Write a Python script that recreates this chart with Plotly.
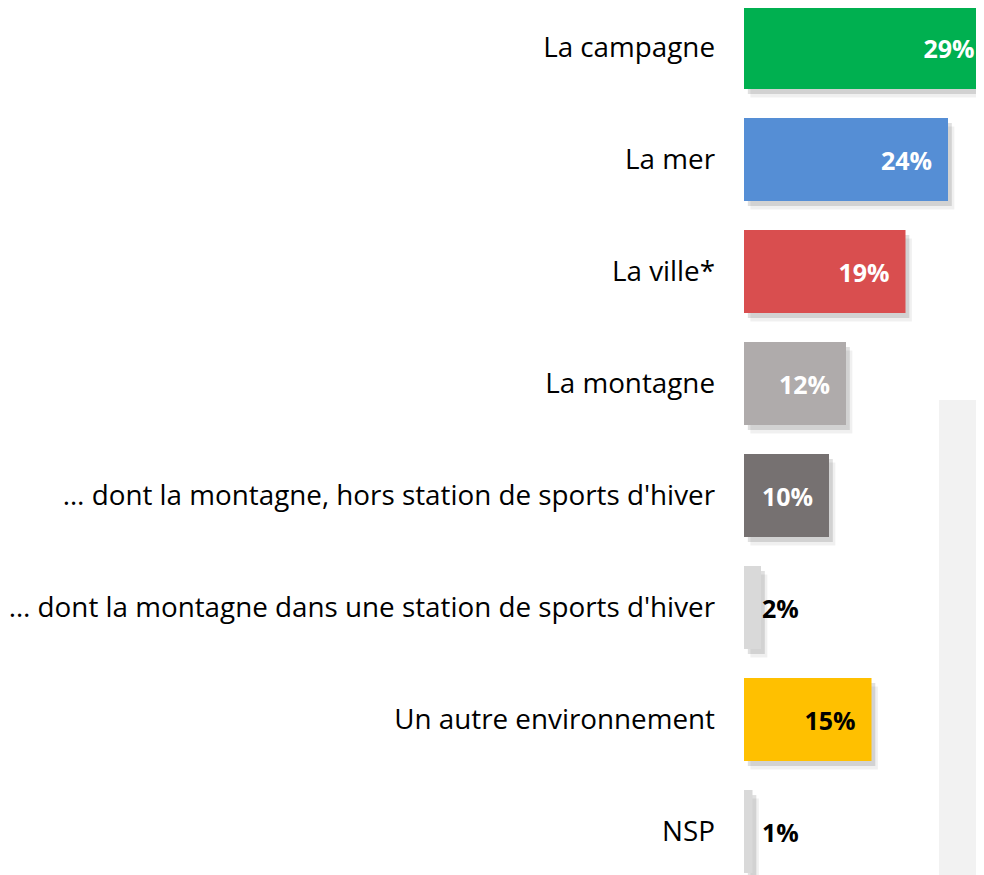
import plotly.graph_objects as go

categories = [
    "La campagne",
    "La mer",
    "La ville*",
    "La montagne",
    "… dont la montagne, hors station de sports d'hiver",
    "… dont la montagne dans une station de sports d'hiver",
    "Un autre environnement",
    "NSP",
]
values = [29, 24, 19, 12, 10, 2, 15, 1]
value_labels = ["29%", "24%", "19%", "12%", "10%", "2%", "15%", "1%"]
bar_colors = ["#00B050", "#558ED5", "#D94E4F", "#AFABAB", "#767171", "#D9D9D9", "#FFC000", "#D9D9D9"]
label_colors = ["white", "white", "white", "white", "white", "black", "black", "black"]

FONT = "Open Sans"
BAR_W = 0.741
PX_PER_PCT = 8.5
FIG_W, FIG_H = 976, 867
M_LEFT = 736
PITCH = 112.0

inside = [v >= 5 for v in values]

fig = go.Figure()

# soft drop shadow, offset a few pixels right and down
for shift, alpha in [(0.75, 0.06), (0.45, 0.12)]:
    fig.add_trace(go.Bar(
        y=categories, x=values, orientation="h", base=shift,
        width=BAR_W, offset=-BAR_W / 2 + shift / 10,
        marker=dict(color="rgba(0,0,0,%s)" % alpha, line=dict(width=0)),
        hoverinfo="skip", showlegend=False,
    ))

fig.add_trace(go.Bar(
    y=categories, x=values, orientation="h",
    width=BAR_W, offset=-BAR_W / 2,
    marker=dict(color=bar_colors, line=dict(width=0)),
    text=["<b>%s</b>&nbsp;&nbsp;" % lab if ins else "" for lab, ins in zip(value_labels, inside)],
    textposition="inside", insidetextanchor="end",
    insidetextfont=dict(family=FONT, size=25, color=label_colors),
    showlegend=False,
))

# labels of the very short bars sit just right of the axis
for cat, lab, col, ins in zip(categories, value_labels, label_colors, inside):
    if not ins:
        fig.add_annotation(x=0, y=cat, text="<b>%s</b>" % lab, showarrow=False,
                           xanchor="left", xshift=16, font=dict(family=FONT, size=25, color=col))

# grey side panel (partially visible text box)
fig.add_shape(type="rect", xref="paper", yref="paper", x0=(931 - M_LEFT) / (FIG_W - M_LEFT), x1=1.0,
              y0=0, y1=1 - 392 / FIG_H, fillcolor="#F2F2F2", line=dict(width=0), layer="below")
fig.add_annotation(xref="paper", yref="paper", x=(968.7 - M_LEFT) / (FIG_W - M_LEFT), y=1 - 822 / FIG_H,
                   text="T", showarrow=False, xanchor="left",
                   font=dict(family=FONT, size=28, color="#262626"))

top_idx = -39.5 / PITCH
bottom_idx = top_idx + FIG_H / PITCH

fig.update_layout(
    width=FIG_W, height=FIG_H,
    margin=dict(l=M_LEFT, r=0, t=0, b=0),
    barmode="overlay",
    plot_bgcolor="white", paper_bgcolor="white",
    font=dict(family=FONT, size=28, color="#000000"),
    xaxis=dict(range=[0, (FIG_W - M_LEFT) / PX_PER_PCT], visible=False, fixedrange=True),
    yaxis=dict(
        categoryorder="array", categoryarray=categories,
        range=[bottom_idx, top_idx],
        showgrid=False, zeroline=False, showline=False, automargin=False,
        ticks="", ticklabelstandoff=28,
        tickfont=dict(family=FONT, size=27.8, color="#000000"),
    ),
)

fig.write_html("out.html")
